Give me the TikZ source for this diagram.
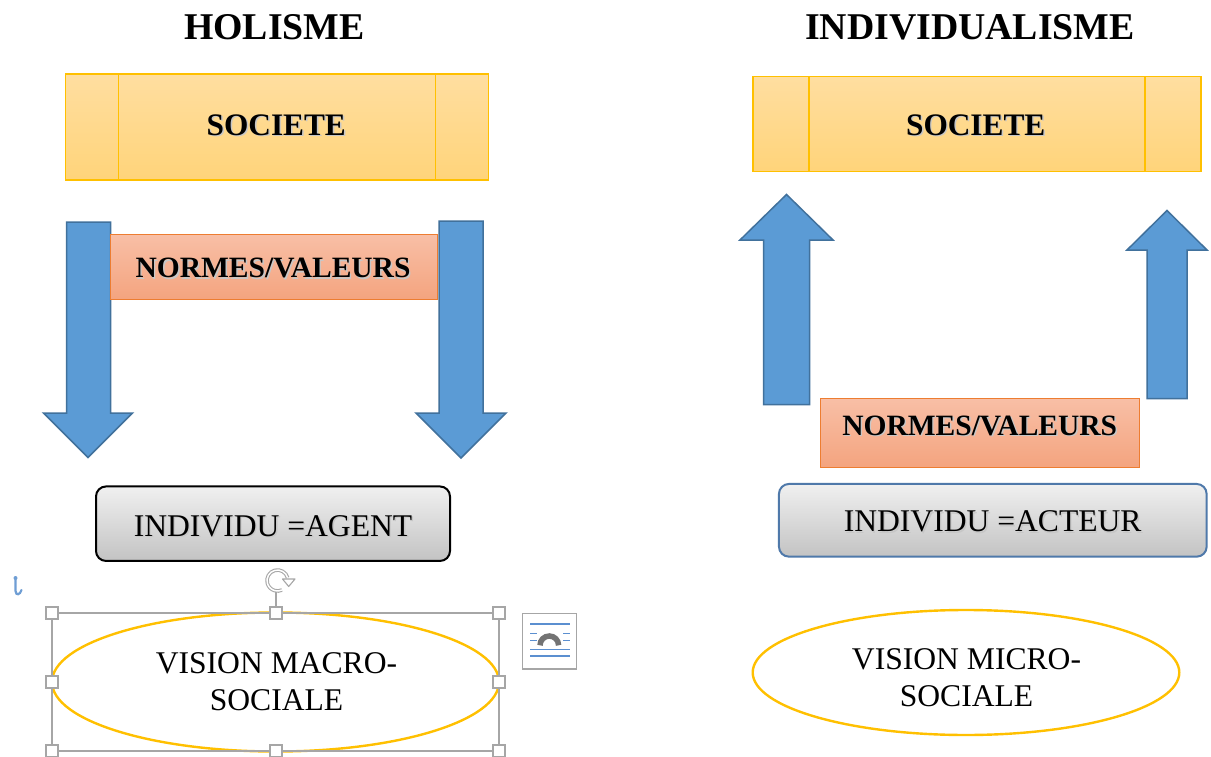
\documentclass[tikz,border=0pt]{standalone}
\usepackage{fontspec}
\setmainfont{Liberation Serif}
\usetikzlibrary{shapes.geometric}
\definecolor{gold}{HTML}{FFC000}
\definecolor{socTop}{HTML}{FFDEA0}
\definecolor{socBot}{HTML}{FFD47A}
\definecolor{normBorder}{HTML}{ED7D31}
\definecolor{normTop}{HTML}{F8BFA6}
\definecolor{normBot}{HTML}{F4A47F}
\definecolor{arrFill}{HTML}{5B9BD5}
\definecolor{arrLine}{HTML}{41719C}
\definecolor{indTop}{HTML}{F0F0F0}
\definecolor{indBot}{HTML}{C3C3C3}
\definecolor{indBlue}{HTML}{4F79AA}
\definecolor{selGray}{HTML}{A6A6A6}
\definecolor{iconBlue}{HTML}{5B8FD0}
\definecolor{anchorBlue}{HTML}{6F9ED4}
\newcommand\shd[1]{\leavevmode\rlap{\kern1.4pt\raisebox{-1.4pt}{\color{black!22}#1}}#1}
\tikzset{
  title/.style={anchor=base, font=\fontsize{37.8}{40}\selectfont\bfseries},
  socbox/.style={draw=gold, line width=1.5pt, top color=socTop, bottom color=socBot, inner sep=0pt},
  soctext/.style={anchor=base, font=\fontsize{31.3}{34}\selectfont\bfseries},
  normbox/.style={draw=normBorder, line width=1.3pt, top color=normTop, bottom color=normBot, inner sep=0pt},
  normtext/.style={anchor=base, font=\fontsize{29.5}{32}\selectfont\bfseries},
  blockarrow/.style={draw=arrLine, fill=arrFill, line width=1.5pt, line join=miter},
  indbox/.style={rounded corners=10pt, line width=2pt, top color=indTop, bottom color=indBot, inner sep=0pt},
  indtext/.style={anchor=base, font=\fontsize{31.6}{34}\selectfont},
  visell/.style={ellipse, draw=gold, line width=2.4pt, fill=white, inner sep=0pt},
  vistext/.style={align=center, font=\fontsize{31.6}{37}\selectfont, inner sep=0pt},
  handle/.style={draw=selGray, fill=white, line width=1.2pt, minimum size=12pt, inner sep=0pt},
}
\begin{document}
\begin{tikzpicture}[x=1pt,y=-1pt]
\useasboundingbox (0,0) rectangle (1211,757);
\fill[white] (0,0) rectangle (1211,757);

% ---------------- HOLISME ----------------
\node[title] (t1) at (274.5,39.5) {HOLISME};

\node[socbox, minimum width=423pt, minimum height=106pt] (s1) at (276.8,127) {};
\draw[gold, line width=1.3pt] (118.3,74) -- (118.3,180);
\draw[gold, line width=1.3pt] (435.7,74) -- (435.7,180);
\node[soctext] (s1t) at (276.3,135.5) {\shd{SOCIETE}};

\draw[blockarrow] (66.5,222) -- (110.5,222) -- (110.5,413) -- (132.5,413) -- (88,457.5) -- (43.5,413) -- (66.5,413) -- cycle;
\draw[blockarrow] (439,221) -- (483,221) -- (483,413) -- (506,413) -- (461,458) -- (416,413) -- (439,413) -- cycle;

\node[normbox, minimum width=327pt, minimum height=65pt] (n1) at (273.7,266.7) {};
\node[normtext] (n1t) at (273,277.7) {\shd{NORMES/VALEURS}};

\node[indbox, draw=black, minimum width=354pt, minimum height=74.5pt] (i1) at (273,523.7) {};
\node[indtext] (i1t) at (273,536) {\shd{INDIVIDU =AGENT}};

% selection frame and ellipse
\node[visell, minimum width=447pt, minimum height=139pt] (e1) at (275.5,682) {};
\draw[selGray, line width=1.2pt] (52,613) rectangle (499,751);
\node[vistext] (v1) at (276.5,682) {VISION MACRO-\\SOCIALE};
\foreach \hx/\hy [count=\k] in {52/613,276/613,499/613,52/682,499/682,52/751,276/751,499/751}
  \node[handle] (h\k) at (\hx,\hy) {};

% rotation handle
\coordinate (rc) at (277.5,580.5);
\draw[selGray, line width=1.2pt] (276,592) -- (h2.north);
\draw[selGray, line width=3.6pt] ([shift={(15:10.5pt)}]rc) arc[start angle=15, end angle=295, radius=10.5pt];
\draw[white, line width=1.5pt] ([shift={(15:10.5pt)}]rc) arc[start angle=15, end angle=295, radius=10.5pt];
\draw[selGray, fill=white, line width=1.1pt, line join=round] (282.5,579) -- (295,579) -- (288.7,586.5) -- cycle;

% anchor icon
\draw[anchorBlue, line width=2.2pt, line cap=round] (15.5,579) -- (15.5,591) .. controls (16,596) and (20,595) .. (21.5,590);
\fill[anchorBlue] (15.5,578) circle (2pt);

% layout options icon
\draw[selGray, fill=white, line width=1.1pt] (522.5,613.5) rectangle (576.5,669);
\draw[iconBlue, line width=1.3pt] (530,624) -- (569.5,624);
\draw[iconBlue, line width=1.3pt] (530,633.3) -- (536.5,633.3) (563,633.3) -- (569.5,633.3);
\draw[iconBlue, line width=1.3pt] (530,640.7) -- (536.5,640.7) (563,640.7) -- (569.5,640.7);
\draw[iconBlue, line width=1.3pt] (530,649.3) -- (569.5,649.3);
\draw[iconBlue, line width=1.3pt] (530,656) -- (569.5,656);
\draw[black!55, line width=5.5pt] (540,645.3) arc[start angle=180, end angle=0, radius=9.3pt];

% ---------------- INDIVIDUALISME ----------------
\node[title] (t2) at (970,39.5) {INDIVIDUALISME};

\node[socbox, minimum width=448pt, minimum height=95pt] (s2) at (977,124.2) {};
\draw[gold, line width=1.3pt] (809,76.7) -- (809,171.7);
\draw[gold, line width=1.3pt] (1145,76.7) -- (1145,171.7);
\node[soctext] (s2t) at (975.7,135.5) {\shd{SOCIETE}};

\draw[blockarrow] (763.5,404.5) -- (809.5,404.5) -- (809.5,240) -- (833,240) -- (786.5,194.5) -- (740,240) -- (763.5,240) -- cycle;
\draw[blockarrow] (1147,398.5) -- (1187,398.5) -- (1187,250) -- (1207,250) -- (1167,210.5) -- (1127,250) -- (1147,250) -- cycle;

\node[normbox, minimum width=319pt, minimum height=69pt] (n2) at (980.3,432.8) {};
\node[normtext] (n2t) at (979.7,435) {\shd{NORMES/VALEURS}};

\node[indbox, draw=indBlue, minimum width=427.7pt, minimum height=72.7pt] (i2) at (992.8,520.3) {};
\node[indtext] (i2t) at (992.7,531.7) {\shd{INDIVIDU =ACTEUR}};

\node[visell, minimum width=426.6pt, minimum height=125pt] (e2) at (966,672.5) {};
\node[vistext] (v2) at (966.5,677.3) {VISION MICRO-\\SOCIALE};
\end{tikzpicture}
\end{document}
